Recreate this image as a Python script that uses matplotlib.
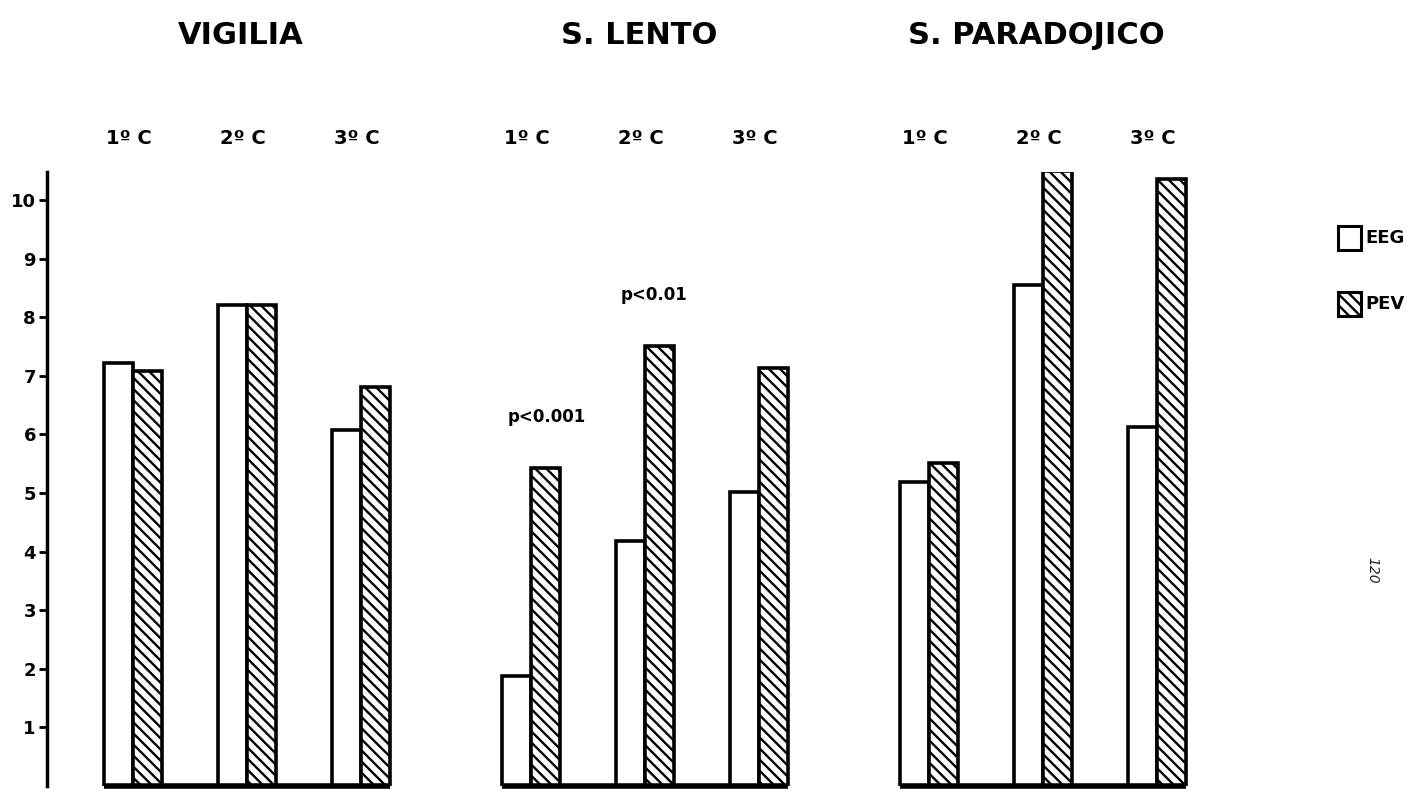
import matplotlib
matplotlib.use("Agg")
import matplotlib.pyplot as plt
from matplotlib.patches import Rectangle

plt.rcParams['font.family'] = ['DejaVu Sans']
plt.rcParams['hatch.linewidth'] = 1.7

# Data
states = ["VIGILIA", "S. LENTO", "S. PARADOJICO"]
cycles = ["1º C", "2º C", "3º C"]
eeg = [[7.22, 8.21, 6.08],
       [1.88, 4.18, 5.02],
       [5.19, 8.55, 6.13]]
pev = [[7.08, 8.21, 6.81],
       [5.43, 7.51, 7.13],
       [5.51, 10.50, 10.36]]
yticks = [1, 2, 3, 4, 5, 6, 7, 8, 9, 10]
notes = [(1, 0, "p<0.001", 6.3, 0.14), (1, 1, "p<0.01", 8.38, 0.08)]

W, H = 1407, 789
fig = plt.figure(figsize=(W / 100, H / 100), dpi=100)

# axes geometry (pixel based)
ax_left_px, ax_right_px = 47, 1200
ax_bottom_px, ax_top_px = 786, 172
unit_px = 114.0            # one cycle step
first_center_px = 133.0
panel_step = 3.49          # in cycle units
bw = 0.255                 # bar width in cycle units
HATCH = '\\\\\\'

ax = fig.add_axes([ax_left_px / W, 1 - ax_bottom_px / H,
                   (ax_right_px - ax_left_px) / W,
                   (ax_bottom_px - ax_top_px) / H])
xmin = -(first_center_px - ax_left_px) / unit_px
xmax = (ax_right_px - first_center_px) / unit_px
ax.set_xlim(xmin, xmax)
ax.set_ylim(0, 10.48)

def fig_y(px):
    return 1 - px / H

for p in range(3):
    for g in range(3):
        xc = p * panel_step + g
        ax.bar(xc - bw / 2, eeg[p][g], width=bw, facecolor='white',
               edgecolor='black', linewidth=2.6, zorder=3)
        ax.bar(xc + bw / 2, pev[p][g], width=bw, facecolor='white',
               edgecolor='black', linewidth=2.6, hatch=HATCH, zorder=3)
        xf = ax.transData.transform((xc, 0))[0] / (fig.dpi * fig.get_figwidth())
        fig.text(xf - 4 / W, fig_y(138), cycles[g], ha='center', va='center',
                 fontsize=14, fontweight='bold')
    # baseline under each panel
    x0 = p * panel_step - bw
    x1 = p * panel_step + 2 + bw
    ax.plot([x0, x1], [0, 0], color='black', linewidth=4, zorder=4,
            solid_capstyle='butt', clip_on=False)
    # panel title
    xf = ax.transData.transform((p * panel_step + 1, 0))[0] / (fig.dpi * fig.get_figwidth())
    fig.text(xf - 6 / W, fig_y(36), states[p], ha='center', va='center',
             fontsize=22, fontweight='bold')

for p, g, txt, yv, dx in notes:
    ax.text(p * panel_step + g + dx, yv, txt, ha='center', va='center',
            fontsize=12, fontweight='bold')

for s in ['top', 'right', 'bottom']:
    ax.spines[s].set_visible(False)
ax.spines['left'].set_linewidth(2.5)
ax.set_xticks([])
ax.set_yticks(yticks)
ax.set_yticklabels([str(t) for t in yticks], fontsize=13, fontweight='bold')
ax.tick_params(axis='y', direction='out', length=6, width=2, pad=2)

# legend
lx0, lw_px, lh_px = 1338, 23, 24
for i, (lab, hatch) in enumerate([("EEG", None), ("PEV", HATCH)]):
    ytop = 226 + i * 66
    r = Rectangle((lx0 / W, 1 - (ytop + lh_px) / H), lw_px / W, lh_px / H,
                  transform=fig.transFigure, facecolor='white', edgecolor='black',
                  linewidth=2.2, hatch=hatch)
    fig.patches.append(r)
    fig.text((lx0 + lw_px + 4) / W, fig_y(ytop + lh_px / 2), lab,
             ha='left', va='center', fontsize=13, fontweight='bold')

# page number in margin
fig.text(1372 / W, fig_y(570), "120", rotation=270, ha='center', va='center',
         fontsize=10, style='italic', color='#222222')

fig.savefig("out.png", dpi=100, facecolor='white')
